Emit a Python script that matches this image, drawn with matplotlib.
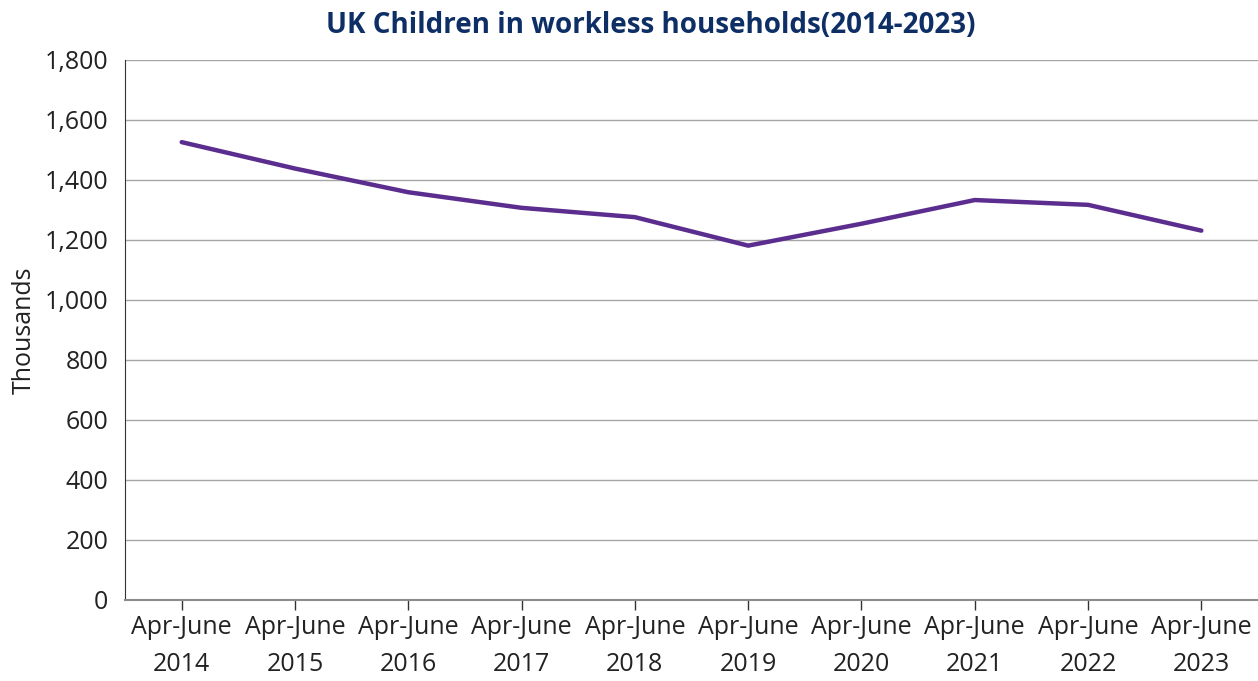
import matplotlib
matplotlib.use("Agg")
import matplotlib.pyplot as plt
from matplotlib.ticker import FuncFormatter

# Children living in workless households, Apr-June each year (thousands)
years = ["2014", "2015", "2016", "2017", "2018", "2019", "2020", "2021", "2022", "2023"]
children = [1526, 1438, 1359, 1307, 1276, 1181, 1254, 1333, 1317, 1231]
tick_labels = [f"Apr-June\n{y}" for y in years]

LINE_COLOR = "#5b2d8e"
TITLE_COLOR = "#0e2f66"
TEXT_COLOR = "#222222"

plt.rcParams["font.family"] = ["Open Sans", "DejaVu Sans"]

fig = plt.figure(figsize=(12.58, 6.81), dpi=100)
ax = fig.add_axes([0.0994, 0.119, 0.9006, 0.793])

x = list(range(len(years)))
ax.plot(x, children, color=LINE_COLOR, linewidth=3.2, solid_capstyle="round",
        solid_joinstyle="round", zorder=3)

ax.set_xlim(-0.5, len(years) - 0.5)
ax.set_ylim(0, 1800)
ax.set_yticks(range(0, 1801, 200))
ax.yaxis.set_major_formatter(FuncFormatter(lambda v, _: f"{int(v):,}"))
ax.set_xticks(x)
ax.set_xticklabels(tick_labels, linespacing=1.62)

ax.grid(axis="y", color="#a6a6a6", linewidth=1.0)
ax.set_axisbelow(True)
for side in ("top", "right"):
    ax.spines[side].set_visible(False)
ax.spines["left"].set_color("#333333")
ax.spines["bottom"].set_color("#8c8c8c")
ax.spines["bottom"].set_linewidth(1.5)

ax.tick_params(axis="y", length=0, pad=12, labelsize=18, labelcolor=TEXT_COLOR)
ax.tick_params(axis="x", length=7, width=1, color="#333333", pad=4,
               labelsize=18, labelcolor=TEXT_COLOR)

ax.set_ylabel("Thousands", fontsize=18, color=TEXT_COLOR, labelpad=6)
fig.text(0.5175, 0.962, "UK Children in workless households(2014-2023)",
         ha="center", va="center", fontsize=20, fontweight="bold", color=TITLE_COLOR)

fig.savefig("out.png", dpi=100)
